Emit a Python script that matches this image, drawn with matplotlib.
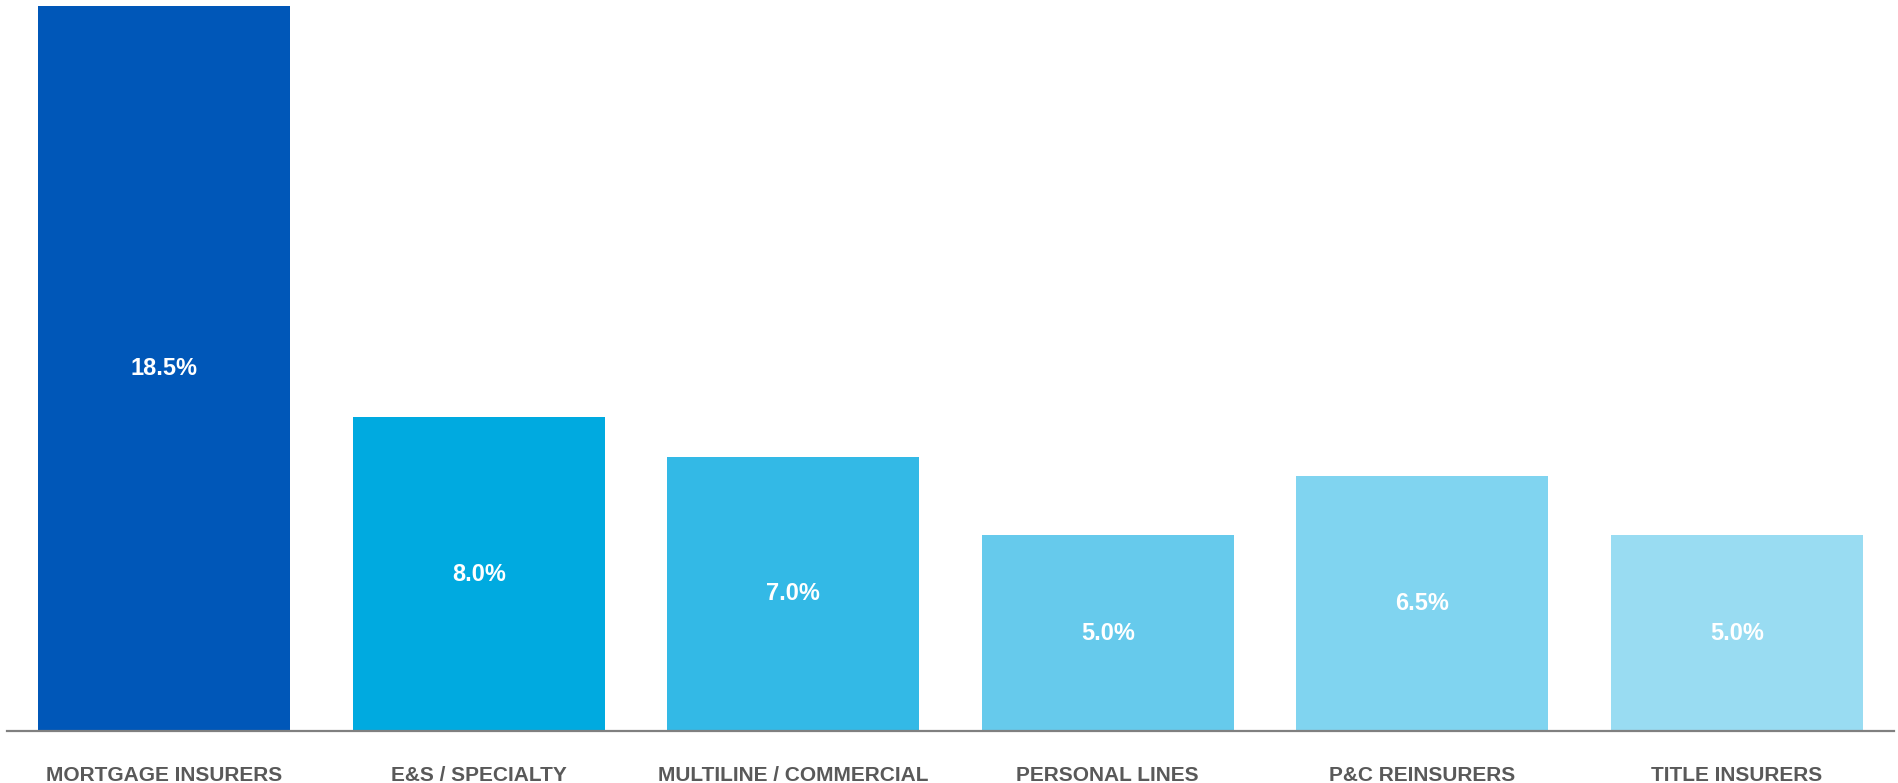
import numpy as np
import matplotlib
matplotlib.use("Agg")
import matplotlib.pyplot as plt

categories = ["MORTGAGE INSURERS", "E&S / SPECIALTY", "MULTILINE / COMMERCIAL",
              "PERSONAL LINES", "P&C REINSURERS", "TITLE INSURERS"]
values = [18.5, 8.0, 7.0, 5.0, 6.5, 5.0]
colors = ["#0057B8", "#00AAE0", "#33B9E6", "#66CAEC", "#80D4F0", "#99DCF2"]

plt.rcParams['font.family'] = ['Liberation Sans', 'DejaVu Sans']

fig = plt.figure(figsize=(18.99, 7.83), dpi=100)
ax = fig.add_axes([7/1899, 52/783, 1887/1899, 725/783])

x = np.arange(len(categories))
bars = ax.bar(x, values, width=0.8, color=colors)

for xi, v in zip(x, values):
    ax.text(xi, v/2, f"{v:.1f}%", ha='center', va='center',
            color='white', fontsize=17, fontweight='bold')

ax.set_xlim(-0.5, len(categories) - 0.5)
ax.set_ylim(0, 18.5)
ax.set_xticks(x)
ax.set_xticklabels(categories, fontsize=15, fontweight='bold', color='#595959')
ax.tick_params(axis='x', length=0, pad=25)
ax.set_yticks([])

for s in ['top', 'right', 'left']:
    ax.spines[s].set_visible(False)
ax.spines['bottom'].set_color('#808080')
ax.spines['bottom'].set_linewidth(1.6)
ax.spines['bottom'].set_zorder(3)

fig.savefig("out.png", dpi=100)
